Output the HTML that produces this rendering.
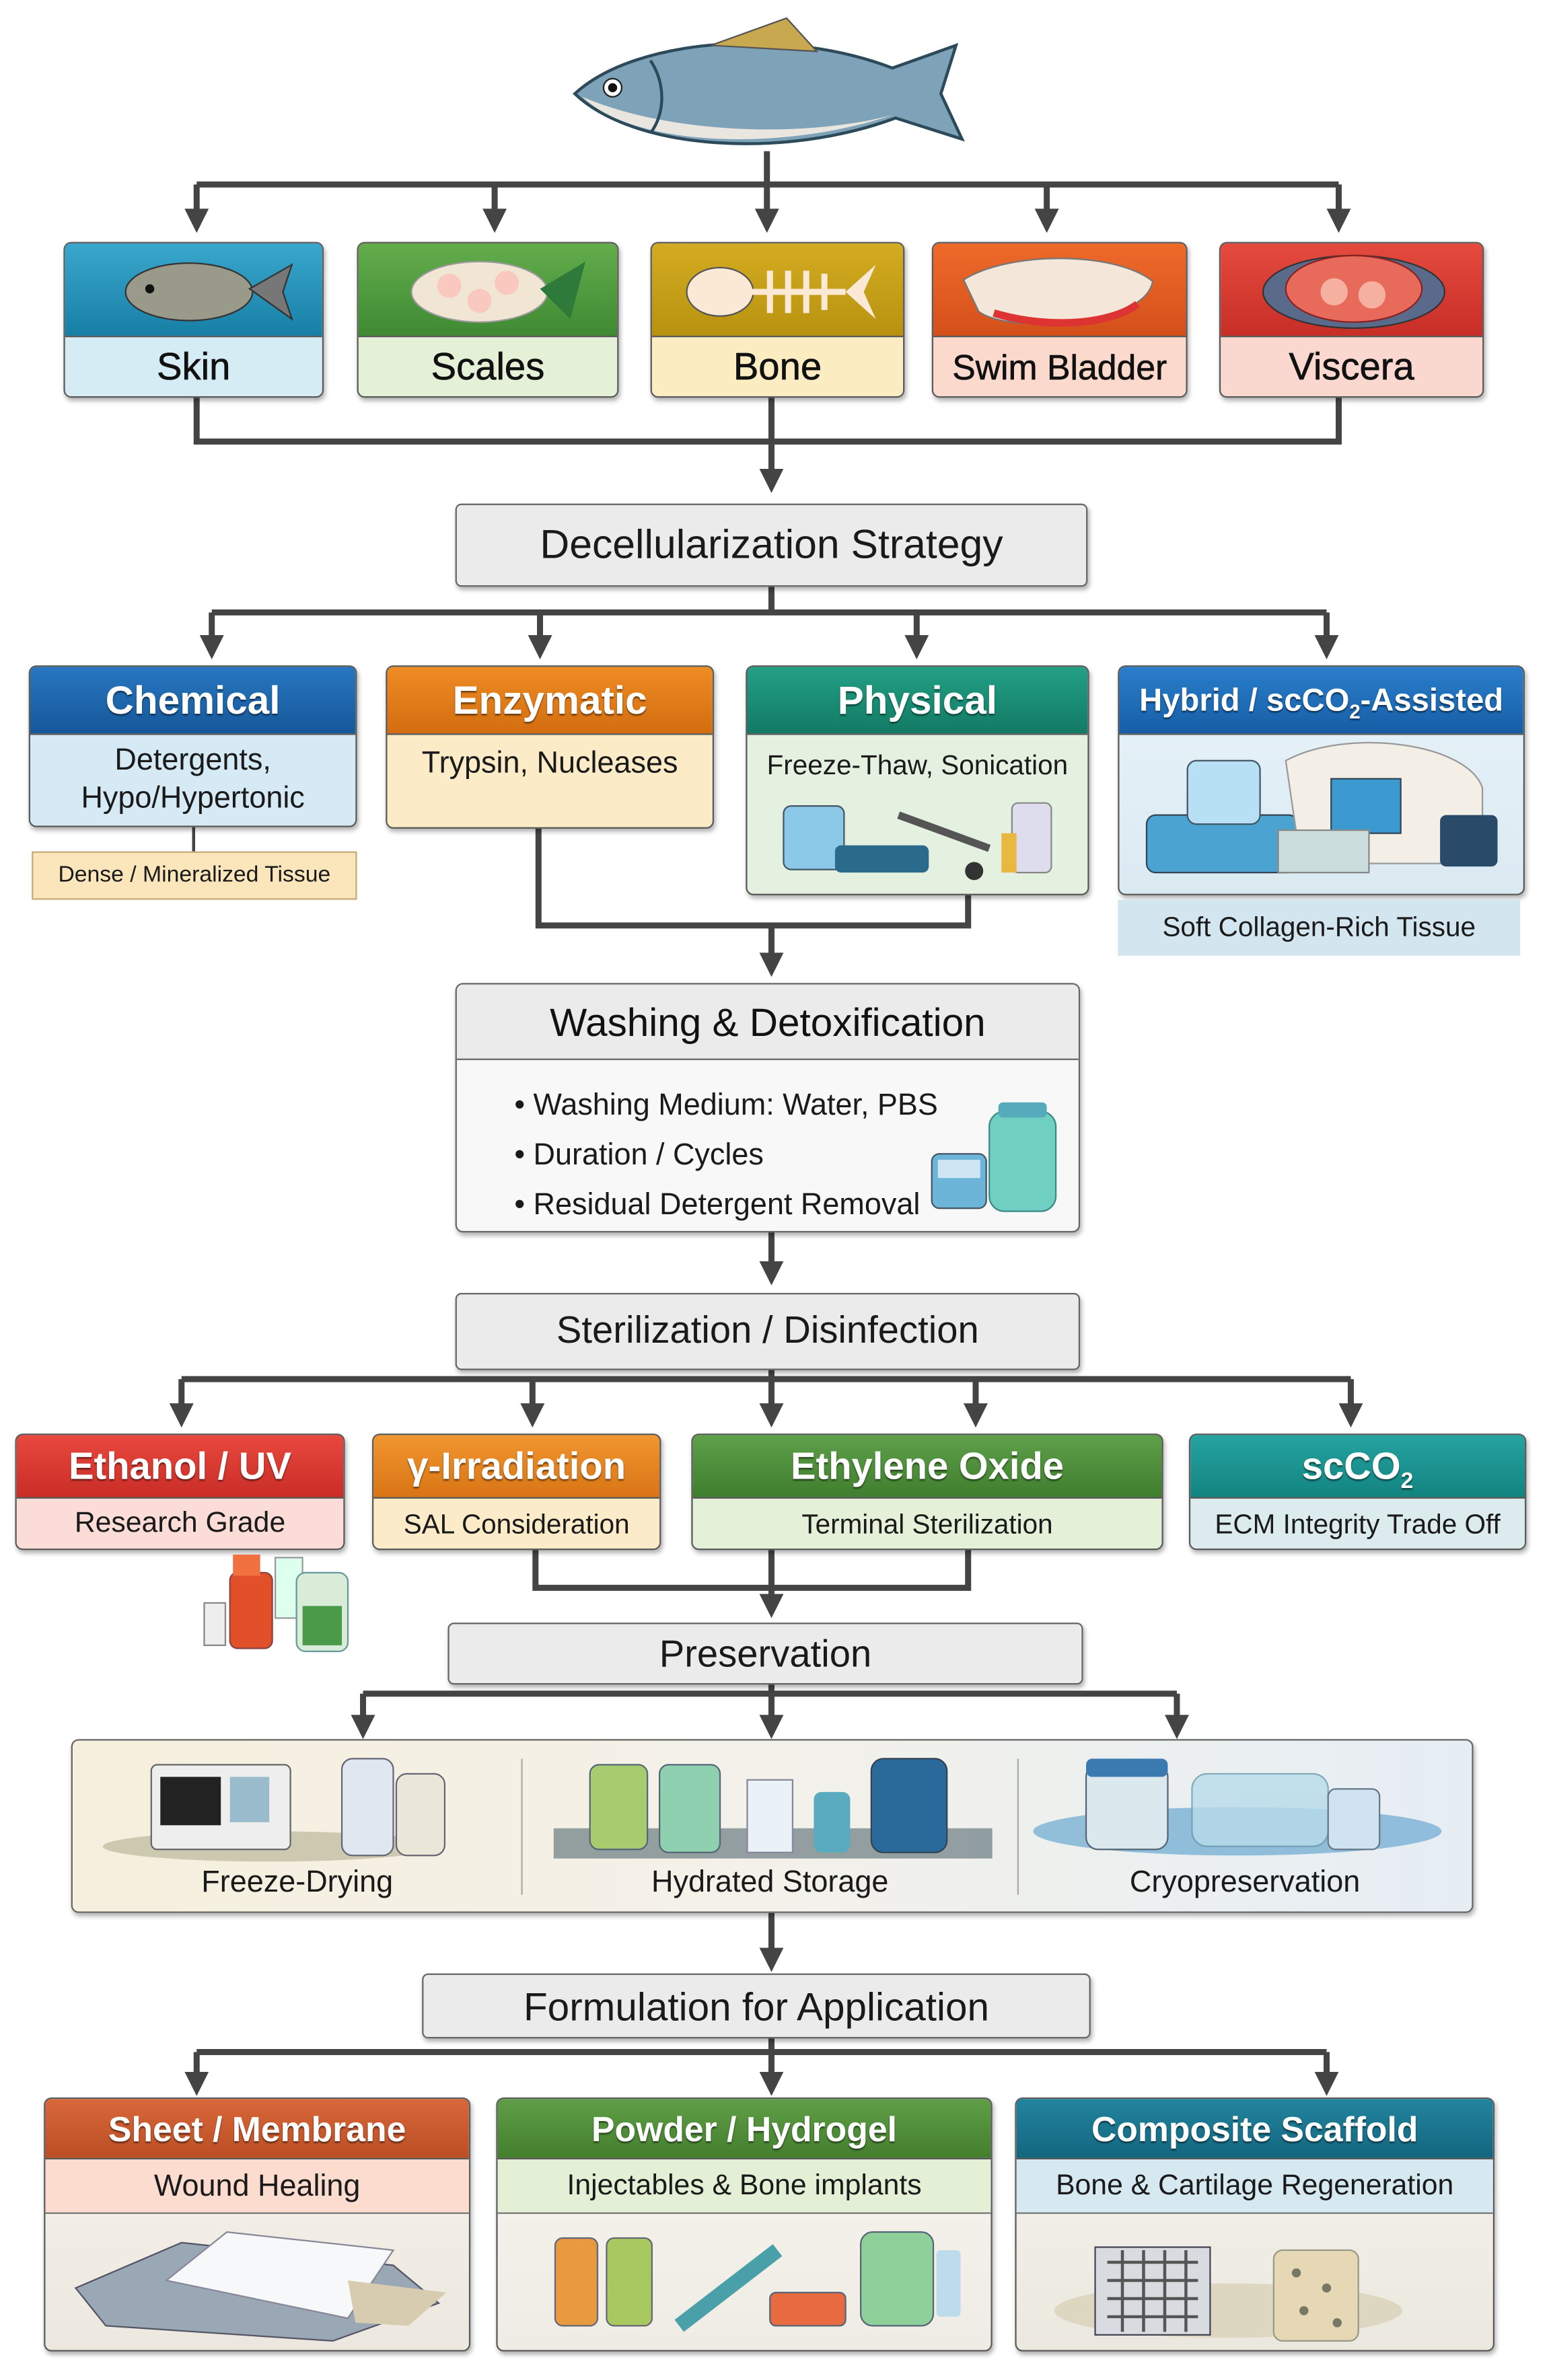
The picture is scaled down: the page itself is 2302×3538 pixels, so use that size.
<!DOCTYPE html>
<html><head><meta charset="utf-8">
<style>
html,body{margin:0;padding:0;background:#fff;}
body{width:2302px;height:3538px;overflow:hidden;position:relative;}
#st{position:absolute;left:0;top:0;width:1024px;height:1574px;transform:scale(2.248);transform-origin:0 0;font-family:"Liberation Sans",sans-serif;color:#1a1a1a;}
.b{position:absolute;border:1.5px solid #5a5a5a;border-radius:5px;box-shadow:1px 2px 3px rgba(0,0,0,.3);overflow:hidden;box-sizing:border-box;}
.h{position:absolute;left:0;right:0;top:0;color:#fff;text-align:center;font-weight:bold;text-shadow:0 1px 1px rgba(0,0,0,.5);border-bottom:1.5px solid #555;box-sizing:border-box;}
.s{position:absolute;left:0;right:0;text-align:center;box-sizing:border-box;}
.g{position:absolute;background:#ebebeb;border:1.5px solid #666;border-radius:4px;box-shadow:1px 2px 3px rgba(0,0,0,.3);text-align:center;box-sizing:border-box;}
svg{position:absolute;left:0;top:0;}
.lbl{position:absolute;text-align:center;font-size:20px;}
.r1{color:#111;-webkit-text-stroke:0.3px #111;}
</style></head><body><div id="st">

<svg width="1024" height="1574" viewBox="0 0 1024 1574">
<defs><marker id="a" markerWidth="4" markerHeight="4" refX="2" refY="2" orient="auto" markerUnits="strokeWidth"><path d="M0,0 L4,2 L0,4 z" fill="#444"/></marker></defs>
<g stroke="#444" stroke-width="4" fill="none">
<path d="M507 100 V122 M130 122 H885"/>
<path d="M130 122 V146" marker-end="url(#a)"/><path d="M327 122 V146" marker-end="url(#a)"/><path d="M507 122 V146" marker-end="url(#a)"/><path d="M692 122 V146" marker-end="url(#a)"/><path d="M885 122 V146" marker-end="url(#a)"/>
<path d="M130 263 V292 H885 V263 M510 263 V292"/>
<path d="M510 292 V318" marker-end="url(#a)"/>
<path d="M510 388 V405 M140 405 H877"/>
<path d="M140 405 V428" marker-end="url(#a)"/><path d="M357 405 V428" marker-end="url(#a)"/><path d="M606 405 V428" marker-end="url(#a)"/><path d="M877 405 V428" marker-end="url(#a)"/>
<path d="M128 547 V563" stroke-width="2"/>
<path d="M356 548 V612 H640 V592"/>
<path d="M510 612 V638" marker-end="url(#a)"/>
<path d="M510 815 V842" marker-end="url(#a)"/>
<path d="M510 906 V912 M120 912 H893"/>
<path d="M120 912 V936" marker-end="url(#a)"/><path d="M352 912 V936" marker-end="url(#a)"/><path d="M510 912 V936" marker-end="url(#a)"/><path d="M645 912 V936" marker-end="url(#a)"/><path d="M893 912 V936" marker-end="url(#a)"/>
<path d="M354 1025 V1050 H640 V1025"/>
<path d="M510 1025 V1062" marker-end="url(#a)"/>
<path d="M510 1114 V1120 M240 1120 H778"/>
<path d="M240 1120 V1142" marker-end="url(#a)"/><path d="M510 1120 V1142" marker-end="url(#a)"/><path d="M778 1120 V1142" marker-end="url(#a)"/>
<path d="M510 1265 V1296" marker-end="url(#a)"/>
<path d="M510 1348 V1357 M130 1357 H877"/>
<path d="M130 1357 V1378" marker-end="url(#a)"/><path d="M510 1357 V1378" marker-end="url(#a)"/><path d="M877 1357 V1378" marker-end="url(#a)"/>
</g>
<g>
<path d="M380 62 C420 25 520 18 590 45 L632 30 L622 62 L636 92 L592 78 C520 105 420 100 380 62 Z" fill="#7ea3b8" stroke="#2d4a5a" stroke-width="2"/>
<path d="M385 64 C440 88 530 92 590 76 C520 100 420 98 385 64Z" fill="#e8e6df"/>
<path d="M470 30 L520 12 L540 34Z" fill="#c9a94f" stroke="#555" stroke-width="1"/>
<circle cx="405" cy="58" r="6" fill="#fff" stroke="#222"/><circle cx="405" cy="58" r="3" fill="#111"/>
<path d="M430 40 C440 55 440 75 430 88" stroke="#2d4a5a" stroke-width="2" fill="none"/>
</g>
</svg>

<div class="b" style="left:42px;top:160px;width:172px;height:103px;background:#d6ecf5">
 <div class="h" style="height:62px;background:linear-gradient(#3aa7cc,#177fa6)"><svg width="172" height="62"><ellipse cx="82" cy="32" rx="42" ry="19" fill="#9a9a8a" stroke="#333"/><path d="M122 30 L150 14 L144 32 L150 50Z" fill="#777" stroke="#333"/><circle cx="56" cy="30" r="3" fill="#111"/></svg></div>
 <div class="s r1" style="top:62px;height:40px;line-height:40px;font-size:25px">Skin</div></div>
<div class="b" style="left:236px;top:160px;width:173px;height:103px;background:#e4f1d6">
 <div class="h" style="height:62px;background:linear-gradient(#63ad4c,#3f8a33)"><svg width="173" height="62"><ellipse cx="80" cy="32" rx="45" ry="20" fill="#f1e6d4" stroke="#999"/><g fill="#f9c9c0"><circle cx="60" cy="28" r="8"/><circle cx="80" cy="38" r="8"/><circle cx="98" cy="26" r="8"/></g><path d="M120 30 L150 12 L140 50Z" fill="#2e7a3a"/></svg></div>
 <div class="s r1" style="top:62px;height:40px;line-height:40px;font-size:25px">Scales</div></div>
<div class="b" style="left:430px;top:160px;width:168px;height:103px;background:#fbecc2">
 <div class="h" style="height:62px;background:linear-gradient(#d4ac22,#b8920f)"><svg width="168" height="62"><ellipse cx="45" cy="32" rx="22" ry="16" fill="#fbe9d6" stroke="#555"/><path d="M66 32 H128 M78 18 V46 M90 18 V46 M102 18 V46 M114 20 V44" stroke="#fbe9d6" stroke-width="4"/><path d="M128 32 L148 14 L140 32 L148 50Z" fill="#fbe9d6"/></svg></div>
 <div class="s r1" style="top:62px;height:40px;line-height:40px;font-size:25px">Bone</div></div>
<div class="b" style="left:616px;top:160px;width:169px;height:103px;background:#fbd9cc">
 <div class="h" style="height:62px;background:linear-gradient(#ee6a2a,#d4501a)"><svg width="169" height="62"><path d="M20 24 C50 5 120 5 145 25 C140 55 50 60 30 45 Z" fill="#f4e6d8" stroke="#777"/><path d="M40 46 C80 58 120 52 135 40" stroke="#d33" stroke-width="5" fill="none"/></svg></div>
 <div class="s r1" style="top:62px;height:40px;line-height:40px;font-size:23px">Swim Bladder</div></div>
<div class="b" style="left:806px;top:160px;width:175px;height:103px;background:#fad8d0">
 <div class="h" style="height:62px;background:linear-gradient(#e54a3e,#c72e26)"><svg width="175" height="62"><ellipse cx="88" cy="32" rx="60" ry="24" fill="#5a6a8a" stroke="#333"/><ellipse cx="88" cy="30" rx="45" ry="22" fill="#e86a5a" stroke="#822"/><circle cx="75" cy="32" r="9" fill="#f6b0a0"/><circle cx="100" cy="34" r="9" fill="#f6b0a0"/></svg></div>
 <div class="s r1" style="top:62px;height:40px;line-height:40px;font-size:25px">Viscera</div></div>

<div class="g" style="left:301px;top:333px;width:418px;height:55px;line-height:53px;font-size:27px">Decellularization Strategy</div>

<div class="b" style="left:19px;top:440px;width:217px;height:107px;background:#d6eaf5">
 <div class="h" style="height:45px;line-height:45px;font-size:26px;background:linear-gradient(#2877c0,#16579a)">Chemical</div>
 <div class="s" style="top:50px;font-size:20px;line-height:25px">Detergents,<br>Hypo/Hypertonic</div></div>
<div style="position:absolute;left:21px;top:563px;width:215px;height:32px;background:#fbe6bb;border:1px solid #c9a97a;box-sizing:border-box;text-align:center;line-height:30px;font-size:15px">Dense / Mineralized Tissue</div>
<div class="b" style="left:255px;top:440px;width:217px;height:108px;background:#fbebc6">
 <div class="h" style="height:45px;line-height:45px;font-size:26px;background:linear-gradient(#ee8c24,#d36d10)">Enzymatic</div>
 <div class="s" style="top:53px;font-size:20px">Trypsin, Nucleases</div></div>
<div class="b" style="left:493px;top:440px;width:227px;height:152px;background:#e5f1e0">
 <div class="h" style="height:45px;line-height:45px;font-size:26px;background:linear-gradient(#22a085,#137a64)">Physical</div>
 <div class="s" style="top:55px;font-size:18px">Freeze-Thaw, Sonication</div>
 <svg width="227" height="152"><rect x="24" y="92" width="40" height="42" rx="5" fill="#8cc8e8" stroke="#456"/><rect x="58" y="118" width="62" height="18" rx="4" fill="#2a6a8a"/><path d="M100 98 L160 120" stroke="#555" stroke-width="5"/><circle cx="150" cy="135" r="6" fill="#333"/><rect x="175" y="90" width="26" height="46" rx="4" fill="#dde" stroke="#888"/><rect x="168" y="110" width="10" height="26" fill="#e8b840"/></svg></div>
<div class="b" style="left:739px;top:440px;width:269px;height:152px;background:linear-gradient(#e8f3f9,#dbeaf2)">
 <div class="h" style="height:45px;line-height:45px;font-size:21px;background:linear-gradient(#2a7ecb,#165ea6)">Hybrid / scCO<sub style="font-size:13px">2</sub>-Assisted</div>
 <svg width="269" height="152"><rect x="18" y="98" width="100" height="38" rx="6" fill="#4aa3d0" stroke="#345"/><rect x="45" y="62" width="48" height="42" rx="6" fill="#b8e0f4" stroke="#456"/><path d="M110 62 C150 40 230 50 240 80 L240 130 L120 130Z" fill="#f4efe6" stroke="#999"/><rect x="140" y="74" width="46" height="36" fill="#3d9ad0" stroke="#345"/><rect x="212" y="98" width="38" height="34" rx="4" fill="#2a4a6a"/><rect x="105" y="108" width="60" height="28" fill="#cdd" stroke="#888"/></svg></div>
<div style="position:absolute;left:739px;top:595px;width:266px;height:37px;background:#d3e6f0;text-align:center;line-height:37px;font-size:18px">Soft Collagen-Rich Tissue</div>

<div class="b" style="left:301px;top:650px;width:413px;height:165px;background:#f8f8f8;border-color:#666">
 <div class="h" style="height:50px;line-height:50px;font-size:26px;color:#111;font-weight:normal;text-shadow:none;background:#ebebeb;border-bottom:1.5px solid #666">Washing &amp; Detoxification</div>
 <div style="position:absolute;left:38px;top:64px;font-size:20px;line-height:33px">• Washing Medium: Water, PBS<br>• Duration / Cycles<br>• Residual Detergent Removal</div>
 <svg width="413" height="165" style="left:0;top:0"><rect x="314" y="112" width="36" height="36" rx="5" fill="#6cb4d8" stroke="#456"/><rect x="318" y="116" width="28" height="12" fill="#cfe6f2"/><rect x="352" y="84" width="44" height="66" rx="10" fill="#6fcfc0" stroke="#3a8a8a"/><rect x="358" y="78" width="32" height="10" rx="3" fill="#5ab"/></svg></div>

<div class="g" style="left:301px;top:855px;width:413px;height:51px;line-height:49px;font-size:25px">Sterilization / Disinfection</div>

<div class="b" style="left:10px;top:948px;width:218px;height:77px;background:#fbdcd7">
 <div class="h" style="height:42px;line-height:42px;font-size:25px;background:linear-gradient(#e8483e,#c92d26)">Ethanol / UV</div>
 <div class="s" style="top:42px;height:34px;line-height:34px;font-size:19px">Research Grade</div></div>
<svg width="1024" height="1574" style="pointer-events:none"><rect x="135" y="1060" width="14" height="28" fill="#eee" stroke="#888"/><rect x="152" y="1040" width="28" height="50" rx="5" fill="#e2502a" stroke="#844"/><rect x="154" y="1028" width="18" height="14" fill="#f07040"/><rect x="182" y="1030" width="18" height="40" fill="#dfe" stroke="#999"/><rect x="196" y="1040" width="34" height="52" rx="6" fill="#d8ecd8" stroke="#699"/><rect x="200" y="1062" width="26" height="26" fill="#4a9a4a"/></svg>
<div class="b" style="left:246px;top:948px;width:191px;height:77px;background:#fcebc9">
 <div class="h" style="height:42px;line-height:42px;font-size:25px;background:linear-gradient(#f09630,#d97414)">γ-Irradiation</div>
 <div class="s" style="top:42px;height:34px;line-height:34px;font-size:18px">SAL Consideration</div></div>
<div class="b" style="left:457px;top:948px;width:312px;height:77px;background:#e4f0d8">
 <div class="h" style="height:42px;line-height:42px;font-size:25px;background:linear-gradient(#5fa04a,#3f7e2e)">Ethylene Oxide</div>
 <div class="s" style="top:42px;height:34px;line-height:34px;font-size:18px">Terminal Sterilization</div></div>
<div class="b" style="left:786px;top:948px;width:223px;height:77px;background:#dcecee">
 <div class="h" style="height:42px;line-height:42px;font-size:25px;background:linear-gradient(#26a3a0,#128480)">scCO<sub style="font-size:15px">2</sub></div>
 <div class="s" style="top:42px;height:34px;line-height:34px;font-size:18px">ECM Integrity Trade Off</div></div>

<div class="g" style="left:296px;top:1073px;width:420px;height:41px;line-height:40px;font-size:25px">Preservation</div>

<div class="b" style="left:47px;top:1150px;width:927px;height:115px;background:linear-gradient(90deg,#f6efdd,#f3f1ea 50%,#e6eef4);border-color:#666">
 <svg width="927" height="115"><path d="M297 12 V102 M625 12 V102" stroke="#aaa" stroke-width="1"/>
 <ellipse cx="130" cy="70" rx="110" ry="10" fill="#cdc8b0"/><rect x="52" y="16" width="92" height="56" rx="4" fill="#eee" stroke="#666"/><rect x="58" y="24" width="40" height="32" fill="#222"/><rect x="104" y="24" width="26" height="30" fill="#9bc"/><rect x="178" y="12" width="34" height="64" rx="7" fill="#dfe8f0" stroke="#667"/><rect x="214" y="22" width="32" height="54" rx="7" fill="#eae6d8" stroke="#667"/>
 <rect x="318" y="58" width="290" height="20" fill="#6a7a80" opacity=".7"/><rect x="342" y="16" width="38" height="56" rx="6" fill="#a7cc70" stroke="#567"/><rect x="388" y="16" width="40" height="58" rx="6" fill="#8fd0b0" stroke="#567"/><rect x="446" y="26" width="30" height="48" fill="#eaf2f8" stroke="#889"/><rect x="490" y="34" width="24" height="40" rx="5" fill="#5aaac0"/><rect x="528" y="12" width="50" height="62" rx="8" fill="#2a6a9a" stroke="#345"/>
 <ellipse cx="770" cy="60" rx="135" ry="16" fill="#6aa8d0" opacity=".7"/><rect x="670" y="16" width="54" height="56" rx="8" fill="#dbe8ee" stroke="#567"/><rect x="670" y="12" width="54" height="12" rx="4" fill="#3a7ab0"/><rect x="740" y="22" width="90" height="48" rx="10" fill="#b8dcea" opacity=".8" stroke="#6a9ab0"/><rect x="830" y="32" width="34" height="40" rx="5" fill="#cfe4f0" stroke="#678"/></svg>
 <div class="lbl" style="left:0;width:297px;top:83px">Freeze-Drying</div>
 <div class="lbl" style="left:297px;width:328px;top:83px">Hydrated Storage</div>
 <div class="lbl" style="left:625px;width:300px;top:83px">Cryopreservation</div></div>

<div class="g" style="left:279px;top:1305px;width:442px;height:43px;line-height:42px;font-size:26px">Formulation for Application</div>

<div class="b" style="left:29px;top:1387px;width:282px;height:168px;background:linear-gradient(#f7f3ec,#ece8df)">
 <div class="h" style="height:40px;line-height:40px;font-size:23px;background:linear-gradient(#d8683a,#bb4e24)">Sheet / Membrane</div>
 <div class="s" style="top:40px;height:36px;line-height:36px;font-size:20px;background:#fbdccf;border-bottom:1.5px solid #777">Wound Healing</div>
 <svg width="282" height="168"><path d="M20 125 L90 95 L230 110 L260 135 L190 160 L40 150Z" fill="#9aa7b4" stroke="#556"/><path d="M80 120 L120 88 L230 100 L200 145Z" fill="#f6f8fa" stroke="#889"/><path d="M200 120 L265 128 L240 150 L205 148Z" fill="#d8ccb0"/></svg></div>
<div class="b" style="left:328px;top:1387px;width:328px;height:168px;background:linear-gradient(#f7f5ee,#eeece4)">
 <div class="h" style="height:40px;line-height:40px;font-size:23px;background:linear-gradient(#5f9e46,#447f2e)">Powder / Hydrogel</div>
 <div class="s" style="top:40px;height:36px;line-height:36px;font-size:19px;background:#e4f0d6;border-bottom:1.5px solid #777">Injectables &amp; Bone implants</div>
 <svg width="328" height="168"><rect x="38" y="92" width="28" height="58" rx="5" fill="#e89a40" stroke="#667"/><rect x="72" y="92" width="30" height="58" rx="5" fill="#a8c860" stroke="#667"/><path d="M120 150 L185 100" stroke="#4aa0a8" stroke-width="10"/><rect x="180" y="128" width="50" height="22" rx="4" fill="#e86a40" stroke="#567"/><rect x="240" y="88" width="48" height="62" rx="8" fill="#8fcf9a" stroke="#567"/><rect x="290" y="100" width="16" height="44" rx="3" fill="#bcdcec"/></svg></div>
<div class="b" style="left:671px;top:1387px;width:317px;height:168px;background:linear-gradient(#f5f3ed,#ebe8df)">
 <div class="h" style="height:40px;line-height:40px;font-size:23px;background:linear-gradient(#23849e,#13667f)">Composite Scaffold</div>
 <div class="s" style="top:40px;height:36px;line-height:36px;font-size:19px;background:#d6e9f0;border-bottom:1.5px solid #777">Bone &amp; Cartilage Regeneration</div>
 <svg width="317" height="168"><ellipse cx="140" cy="140" rx="115" ry="18" fill="#ddd6c0"/><rect x="52" y="98" width="76" height="58" fill="#d8dce0" stroke="#445"/><path d="M60 108 H120 M60 120 H120 M60 132 H120 M60 144 H120 M70 100 V154 M84 100 V154 M98 100 V154 M112 100 V154" stroke="#555" stroke-width="2"/><rect x="170" y="100" width="56" height="60" rx="6" fill="#e6d8b4" stroke="#998"/><g fill="#776"><circle cx="185" cy="115" r="3"/><circle cx="205" cy="125" r="3"/><circle cx="190" cy="140" r="3"/><circle cx="212" cy="148" r="3"/></g></svg></div>

</div></body></html>
